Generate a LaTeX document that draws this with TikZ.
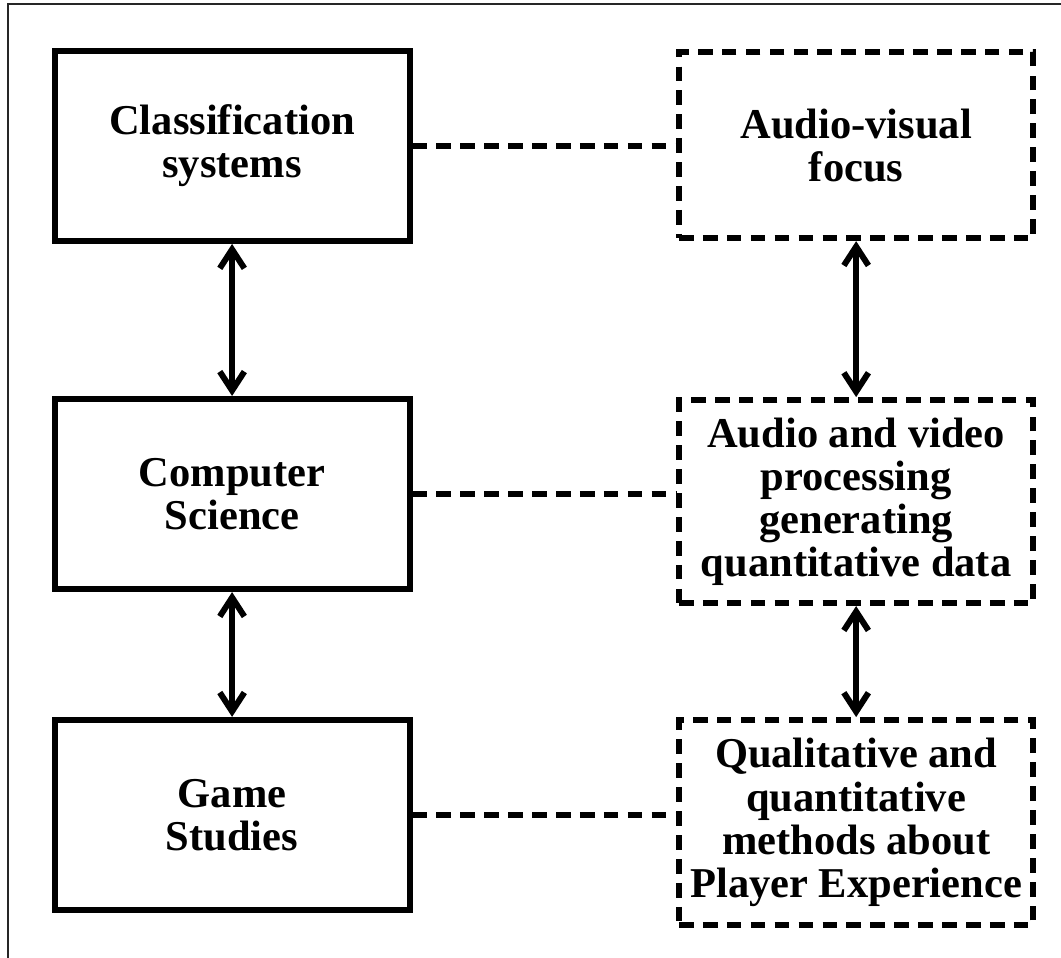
\documentclass[tikz,border=0pt]{standalone}
\usepackage{fontspec}
\setmainfont{Liberation Serif}
\usetikzlibrary{arrows.meta}

\tikzset{
  field/.style={draw, line width=4.5pt, minimum width=9.39cm, minimum height=5.03cm,
    align=center, font=\fontsize{32}{32.5}\selectfont\bfseries},
  method/.style={field, dash pattern=on 11pt off 7pt, minimum width=9.37cm},
  link/.style={line width=4.5pt, dash pattern=on 11pt off 7pt},
  both/.style={line width=4.5pt, {Straight Barb[length=5mm,width=6.5mm]}-{Straight Barb[length=5mm,width=6.5mm]}}
}

\begin{document}
\begin{tikzpicture}

\useasboundingbox (0,0) rectangle (28.07,-25.32);
\draw[line width=1.1pt, black!85] (0.21,-25.4) -- (0.21,-0.106) -- (28.2,-0.106);

% disciplines
\node[field] (class) at (6.14,-3.86) {Classification\\systems};
\node[field] (cs) at (6.14,-13.07) {Computer\\Science};
\node[field] (games) at (6.14,-21.56) {Game\\Studies};

% approaches
\node[method, minimum height=4.92cm] (av) at (22.65,-3.84) {Audio-visual\\focus};
\node[method, minimum height=5.37cm] (proc) at (22.65,-13.27) {Audio and video\\processing\\generating\\quantitative data};
\node[method, minimum height=5.42cm] (px) at (22.65,-21.76) {Qualitative and\\quantitative\\methods about\\Player Experience};

\draw[both] (class) -- (cs);
\draw[both] (cs) -- (games);
\draw[both] (av) -- (proc);
\draw[both] (proc) -- (px);

\draw[link] (class.east) -- (class.east -| av.west);
\draw[link] (cs.east) -- (cs.east -| proc.west);
\draw[link] (games.east) -- (games.east -| px.west);

\end{tikzpicture}
\end{document}
